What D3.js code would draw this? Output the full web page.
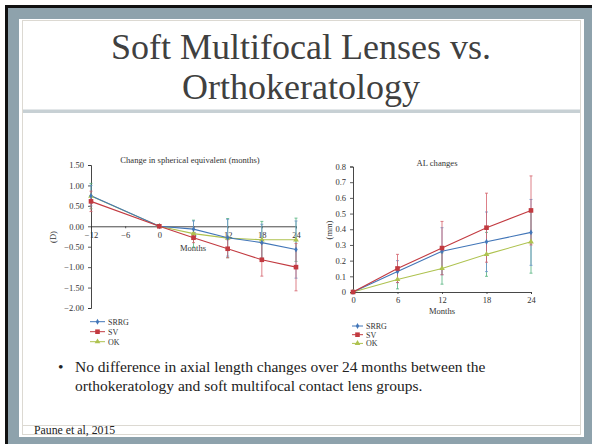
<!DOCTYPE html>
<html><head><meta charset="utf-8">
<script src="https://cdn.jsdelivr.net/npm/d3@7/dist/d3.min.js"></script>
<style>html,body{margin:0;padding:0;background:#fff;}svg{display:block;}</style>
</head><body>
<script>
// ---- data ----
const seMonths = [-12, 0, 6, 12, 18, 24];
const seXTicks = [-12, -6, 0, 6, 12, 18, 24];
const seYTicks = [1.5, 1.0, 0.5, 0, -0.5, -1.0, -1.5, -2.0];
const seSRRG = [0.75, 0, -0.07, -0.28, -0.40, -0.57];
const seSV   = [0.61, 0, -0.28, -0.55, -0.82, -1.00];
const seOK   = [0.74, 0, -0.18, -0.29, -0.33, -0.33];
const seSRRGerr = [0.25, 0, 0.20, 0.45, 0.45, 0.70];
const seSVerr   = [0.25, 0, 0.12, 0.22, 0.40, 0.58];
const seOKerr   = [0.31, 0, 0.33, 0.48, 0.45, 0.53];

const alMonths = [0, 6, 12, 18, 24];
const alYTicks = [0, 0.1, 0.2, 0.3, 0.4, 0.5, 0.6, 0.7, 0.8];
const alSRRG = [0, 0.13, 0.26, 0.32, 0.38];
const alSV   = [0, 0.15, 0.28, 0.41, 0.52];
const alOK   = [0, 0.08, 0.15, 0.24, 0.32];
const alSRRGerr = [0, 0.07, 0.15, 0.19, 0.21];
const alSVerr   = [0, 0.09, 0.17, 0.22, 0.22];
const alOKerr   = [0, 0.06, 0.10, 0.14, 0.20];

const seriesNames = ["SRRG", "SV", "OK"];
const titleLines = ["Soft Multifocal Lenses vs.", "Orthokeratology"];
const bulletLines = ["No difference in axial length changes over 24 months between the",
                     "orthokeratology and soft multifocal contact lens groups."];
const citation = "Paune et al, 2015";

// ---- styles ----
const colLine = {SRRG: "#4276b8", SV: "#c23a40", OK: "#aec24f"};
const colErr  = {SRRG: "#6a92cc", SV: "#d4606a", OK: "#52b27c"};
const serif = "'Liberation Serif','Times New Roman',serif";

const W = 592, H = 444;
const svg = d3.select("body").append("svg").attr("width", W).attr("height", H);

// frame
svg.append("rect").attr("x",0).attr("y",0).attr("width",W).attr("height",H).attr("fill","#fff");
svg.append("rect").attr("x",5).attr("y",5).attr("width",W-5).attr("height",H-5).attr("fill","#111");
svg.append("rect").attr("x",8).attr("y",8).attr("width",W-8).attr("height",H-8).attr("fill","#8ea2ac");
svg.append("rect").attr("x",19).attr("y",19).attr("width",565).attr("height",418).attr("fill","#fff");
svg.append("rect").attr("x",22.5).attr("y",20.5).attr("width",558).attr("height",414)
  .attr("fill","none").attr("stroke","#dcd9d2").attr("stroke-width",1);
svg.append("rect").attr("x",23).attr("y",109.5).attr("width",557).attr("height",3.5).attr("fill","#c7d0d4");
svg.append("line").attr("x1",23).attr("x2",580).attr("y1",425.5).attr("y2",425.5)
  .attr("stroke","#dcd9d2").attr("stroke-width",1);

// title
svg.append("g").selectAll("text").data(titleLines).join("text")
  .attr("x", 301).attr("y", (d,i)=> 59 + i*40)
  .attr("text-anchor","middle").attr("font-family",serif).attr("font-size",36)
  .attr("fill","#404040").text(d=>d);

// bullet
svg.append("text").attr("x",58).attr("y",372).attr("font-family",serif).attr("font-size",15.5)
  .attr("fill","#222").text("\u2022");
svg.append("g").selectAll("text").data(bulletLines).join("text")
  .attr("x",75).attr("y",(d,i)=>372+i*19).attr("font-family",serif).attr("font-size",15.5)
  .attr("fill","#222").text(d=>d);
svg.append("text").attr("x",34).attr("y",433.5).attr("font-family",serif).attr("font-size",11.8)
  .attr("fill","#222").text(citation);

function marker(g, name, x, y, col) {
  if (name === "SV") {
    g.append("rect").attr("x",x-2.3).attr("y",y-2.3).attr("width",4.6).attr("height",4.6).attr("fill",col);
  } else if (name === "OK") {
    g.append("path").attr("d", d3.symbol(d3.symbolTriangle, 14)()).attr("transform",`translate(${x},${y})`).attr("fill",col);
  } else {
    g.append("path").attr("d", d3.symbol(d3.symbolDiamond, 10)()).attr("transform",`translate(${x},${y})`).attr("fill",col);
  }
}

function drawChart(cfg) {
  const g = svg.append("g");
  const x = d3.scaleLinear().domain(cfg.xDomain).range(cfg.xRange);
  const y = d3.scaleLinear().domain(cfg.yDomain).range(cfg.yRange);
  const ya = g.append("g").attr("transform",`translate(${cfg.xRange[0]},0)`)
    .call(d3.axisLeft(y).tickValues(cfg.yTicks).tickFormat(cfg.yFmt).tickSize(3).tickPadding(4));
  const xa = g.append("g").attr("transform",`translate(0,${y(0)})`)
    .call(d3.axisBottom(x).tickValues(cfg.xTicks).tickFormat(d3.format("d")).tickSize(cfg.xTickSize).tickPadding(cfg.xPad));
  [ya, xa].forEach(a => {
    a.select(".domain").attr("stroke","#333").attr("stroke-width",0.9);
    a.selectAll(".tick line").attr("stroke","#333").attr("stroke-width",0.8);
    a.selectAll("text").attr("font-family",serif).attr("font-size",8.5).attr("fill","#333");
  });
  xa.selectAll(".tick text").text(d => d < 0 ? "\u2212" + Math.abs(d) : d);
  ya.selectAll(".tick text").text(d => cfg.yFmt(d).replace("-", "\u2212"));
  g.append("text").attr("x",cfg.titleX).attr("y",cfg.titleY).attr("text-anchor","middle")
    .attr("font-family",serif).attr("font-size",8.6).attr("fill","#333").text(cfg.title);
  g.append("text").attr("x",cfg.monthsX).attr("y",cfg.monthsY).attr("text-anchor","middle")
    .attr("font-family",serif).attr("font-size",8.5).attr("fill","#333").text("Months");
  g.append("text").attr("transform",`translate(${cfg.unitX},${cfg.unitY}) rotate(-90)`).attr("text-anchor","middle")
    .attr("font-family",serif).attr("font-size",8.5).attr("fill","#333").text(cfg.unit);

  const series = [
    {name:"OK", v:cfg.ok, e:cfg.okErr},
    {name:"SRRG", v:cfg.srrg, e:cfg.srrgErr},
    {name:"SV", v:cfg.sv, e:cfg.svErr}
  ];
  series.forEach(s => {
    s.v.forEach((v,i) => {
      const err = s.e[i]; if (!err) return;
      const cx = x(cfg.months[i]);
      g.append("line").attr("x1",cx).attr("x2",cx).attr("y1",y(v-err)).attr("y2",y(v+err))
        .attr("stroke",colErr[s.name]).attr("stroke-width",0.8);
      [v-err, v+err].forEach(t => g.append("line").attr("x1",cx-1.5).attr("x2",cx+1.5)
        .attr("y1",y(t)).attr("y2",y(t)).attr("stroke",colErr[s.name]).attr("stroke-width",0.8));
    });
  });
  const line = d3.line().x((d,i)=>x(cfg.months[i])).y(d=>y(d));
  series.forEach(s => {
    g.append("path").attr("d", line(s.v)).attr("fill","none").attr("stroke",colLine[s.name]).attr("stroke-width",1.1);
  });
  series.forEach(s => s.v.forEach((v,i) => marker(g, s.name, x(cfg.months[i]), y(v), colLine[s.name])));
  const lg = g.append("g");
  seriesNames.forEach((n,i) => {
    const ly = cfg.legY + i*cfg.legStep;
    lg.append("line").attr("x1",cfg.legX).attr("x2",cfg.legX+cfg.legW).attr("y1",ly).attr("y2",ly)
      .attr("stroke",colLine[n]).attr("stroke-width",1);
    marker(lg, n, cfg.legX+cfg.legW/2, ly, colLine[n]);
    lg.append("text").attr("x",cfg.legX+cfg.legW+3).attr("y",ly+2.8).attr("font-family",serif)
      .attr("font-size",8).attr("fill","#333").text(n);
  });
}

drawChart({
  xDomain:[-12,24], xRange:[91,296], yDomain:[-2,1.5], yRange:[308,165],
  xTicks: seXTicks, yTicks: seYTicks, yFmt: d3.format(".2f"), xTickSize:2, xPad:4,
  months: seMonths, srrg: seSRRG, sv: seSV, ok: seOK,
  srrgErr: seSRRGerr, svErr: seSVerr, okErr: seOKerr,
  title: "Change in spherical equivalent (months)", titleX: 190, titleY: 163,
  monthsX: 193, monthsY: 251, unit: "(D)", unitX: 56, unitY: 237,
  legX: 90, legW: 15, legY: 321.7, legStep: 10
});
drawChart({
  xDomain:[0,24], xRange:[353,531], yDomain:[0,0.8], yRange:[292,166.5],
  xTicks: alMonths, yTicks: alYTicks, yFmt: d => d === 0 ? "0" : d3.format(".1f")(d), xTickSize:2, xPad:3,
  months: alMonths, srrg: alSRRG, sv: alSV, ok: alOK,
  srrgErr: alSRRGerr, svErr: alSVerr, okErr: alOKerr,
  title: "AL changes", titleX: 437, titleY: 166,
  monthsX: 442, monthsY: 314, unit: "(mm)", unitX: 332, unitY: 230,
  legX: 352, legW: 11, legY: 326, legStep: 8.7
});
</script>
</body></html>
